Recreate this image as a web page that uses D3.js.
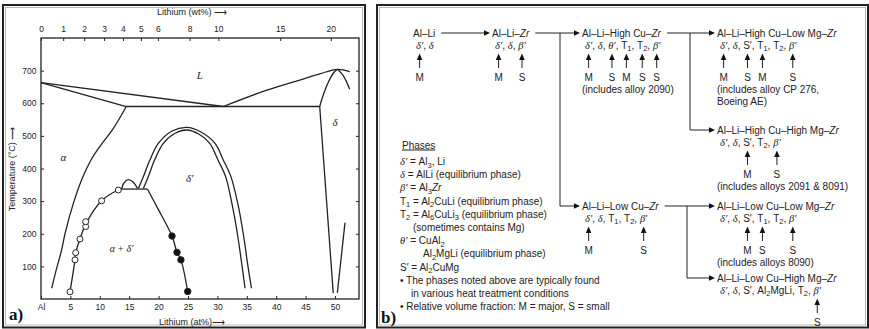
<!DOCTYPE html>
<html><head><meta charset="utf-8">
<script src="https://cdn.jsdelivr.net/npm/d3@7"></script>
<style>body{margin:0;background:#fff}svg{display:block}text{white-space:pre}</style>
</head><body><svg id="c" width="869" height="329"></svg>
<script>
// ---------------- Panel a data (Li in at%, temperature in °C) ----------------
const atTicks = [0,5,10,15,20,25,30,35,40,45,50];
const atTickLabels = ["Al","5","10","15","20","25","30","35","40","45","50"];
const wtTicks = [0,1,2,3,4,5,6,8,10,15,20];
const tempTicks = [100,200,300,400,500,600,700];

const liquidusAl = [[0,663],[31,590]];
const solidusAl = [[0,663],[14.5,590]];
const eutectic = [[14.5,590],[47.4,590]];
const liquidusDelta = [[31,590],[38.4,640],[44,671],[47.4,690],[50.4,704],[52.5,697]];
const solidusDeltaL = [[47.4,590],[47.9,620],[48.9,666],[49.7,692],[50.4,704]];
const solidusDeltaR = [[50.4,704],[51.4,685],[52.5,643]];
const solvusDeltaL = [[47.4,590],[49.7,18]];
const solvusDeltaR = [[50.4,19],[51.7,234]];
const solvusAlpha = [[14.5,590],[13.4,555],[12.2,520],[10,467],[8.5,426],[6.9,365],[5.5,293],[4.1,201],[3.5,150],[2.6,90],[1.82,33]];
const domeOuter = [[16.55,339],[17.4,375],[18.5,425],[19.95,477],[22.3,515],[24.78,526],[27.2,512],[29.6,477],[31.0,426],[32.3,375],[33.5,290],[34.4,200],[35.2,100],[35.8,33]];
const domeInner = [[17.4,339],[18.25,375],[19.3,425],[20.8,477],[22.8,508],[24.78,518],[26.9,505],[28.7,477],[30.1,426],[31.4,375],[32.5,290],[33.4,200],[34.2,100],[34.7,33]];
const hump = [[13.7,337],[14.1,356],[14.85,366],[15.7,358],[16.4,339]];
const tripleLine = [[13.7,337],[18.1,337]];
const openCurve = [[4.93,22],[5.78,120],[5.9,142],[6.63,184],[7.6,229],[10.3,301],[13.15,334],[13.7,337]];
const filledCurve = [[18.1,337],[19.7,283],[22.28,193],[23.13,143],[23.8,120],[24.95,23]];
const openCircles = [[4.93,22],[5.78,120],[5.9,142],[6.63,184],[7.6,222],[7.6,237],[10.3,301],[13.15,334]];
const filledCircles = [[22.28,193],[23.13,143],[23.8,120],[24.95,23]];
const regionText = ["L","δ","α","δ′","α + δ′"];
const regionAt = [27,50.0,3.8,25.3,13.7];
const regionT = [687,543,436,370,155];

// ---------------- Panel b data ----------------
const nodeNames = ["Al–Li","Al–Li–[Zr]","Al–Li–High Cu–[Zr]","Al–Li–High Cu–Low Mg–[Zr]","Al–Li–High Cu–High Mg–[Zr]","Al–Li–Low Cu–[Zr]","Al–Li–Low Cu–Low Mg–[Zr]","Al–Li–Low Cu–High Mg–[Zr]"];
const nodePhases = [
  ["{δ′}","{δ}"],
  ["{δ′}","{δ}","{β′}"],
  ["{δ′}","{δ}","{θ′}","T_1","T_2","{β′}"],
  ["{δ′}","{δ}","S′","T_1","T_2","{β′}"],
  ["{δ′}","{δ}","S′","T_2","{β′}"],
  ["{δ′}","{δ}","T_1","T_2","{β′}"],
  ["{δ′}","{δ}","S′","T_1","T_2","{β′}"],
  ["{δ′}","{δ}","S′","Al_2MgLi","T_2","{β′}"]
];
const nodeMarkers = [
  [[0,"M"]],
  [[0,"M"],[2,"S"]],
  [[0,"M"],[2,"S"],[3,"M"],[4,"S"],[5,"S"]],
  [[0,"M"],[2,"S"],[3,"M"],[5,"S"]],
  [[2,"M"],[4,"S"]],
  [[0,"M"],[4,"S"]],
  [[2,"M"],[3,"S"],[5,"S"]],
  [[5,"S"]]
];
const nodeNotes = [[],[],["(includes alloy 2090)"],["(includes alloy CP 276,","Boeing AE)"],["(includes alloys 2091 & 8091)"],[],["(includes alloys 8090)"],[]];
const edges = [[0,1],[1,2],[1,5],[2,3],[2,4],[5,6],[5,7]];
const legendLines = [
  "{δ′} = Al_3, Li",
  "{δ} = AlLi (equilibrium phase)",
  "{β′} = Al_3[Zr]",
  "T_1 = Al_2CuLi (equilibrium phase)",
  "T_2 = Al_6CuLi_3 (equilibrium phase)",
  "(sometimes contains Mg)",
  "{θ′} = CuAl_2",
  "Al_2MgLi (equilibrium phase)",
  "S′ = Al_2CuMg",
  "• The phases noted above are typically found",
  "in various heat treatment conditions",
  "• Relative volume fraction: M = major, S = small"
];
const legendIndent = [0,0,0,0,0,2,0,3,0,0,1,0];

// ---------------- layout ----------------
const nodeCol = [0,1,2,3,3,2,3,3];
const nodeRow = [0,0,0,0,1,2,2,3];
const colX = d3.scaleOrdinal().domain([0,1,2,3]).range([413,492,582,717]);
const rowY = d3.scaleOrdinal().domain([0,1,2,3]).range([33,130,206,278]);
const branchX = {1:560, 2:690, 5:687};

const SANS = '"Liberation Sans", Arial, sans-serif';
const SERIF = '"Liberation Serif","DejaVu Serif", serif';
const INK = "#222";

const svg = d3.select("#c");

// rich text: {..} italic serif, [..] italic, _x subscript
function rich(t, str, size){
  const parts=[]; let buf=""; let mode=0; let i=0;
  function flush(){ if(buf){parts.push({t:buf,mode:mode,sub:false}); buf="";} }
  while(i<str.length){
    const c=str[i];
    if(c==="{"){flush();mode=1;i++;continue;}
    if(c==="}"||c==="]"){flush();mode=0;i++;continue;}
    if(c==="["){flush();mode=2;i++;continue;}
    if(c==="_"){flush();parts.push({t:str[i+1],mode:mode,sub:true});i+=2;continue;}
    buf+=c;i++;
  }
  flush();
  let shifted=false;
  parts.forEach(p=>{
    const ts=t.append("tspan").text(p.t);
    if(p.mode===1) ts.attr("font-family",SERIF).attr("font-style","italic").attr("font-size",size+0.5);
    if(p.mode===2) ts.attr("font-style","italic");
    if(p.sub){ ts.attr("font-size",size*0.75).attr("dy",shifted?0:2.5); shifted=true; }
    else if(shifted){ ts.attr("dy",-2.5); shifted=false; }
  });
  return t;
}

// ---------------- panel frames ----------------
function frame(x0,y0,x1,y1){
  svg.append("rect").attr("x",x0).attr("y",y0).attr("width",x1-x0).attr("height",y1-y0)
    .attr("fill","none").attr("stroke","#222").attr("stroke-width",2);
  svg.append("rect").attr("x",x0+2.5).attr("y",y0+2.5).attr("width",x1-x0-5).attr("height",y1-y0-5)
    .attr("fill","none").attr("stroke","#aaa").attr("stroke-width",0.8);
}
frame(3,5,365,327.5);
frame(377,5,868,327.5);

// ---------------- Panel a ----------------
const x = d3.scaleLinear().domain([0,50]).range([41,335]);
const y = d3.scaleLinear().domain([0,800]).range([299,38]);
const xRight = 359;
const wtToAt = w => 100*(w/6.941)/((w/6.941)+((100-w)/26.98));

const ga = svg.append("g");
ga.append("rect").attr("x",x(0)).attr("y",y(800)).attr("width",xRight-x(0)).attr("height",y(0)-y(800))
  .attr("fill","none").attr("stroke",INK).attr("stroke-width",1.3);

function styleAxis(g){
  g.select(".domain").remove();
  g.selectAll("line").attr("stroke",INK).attr("stroke-width",1);
  g.selectAll("text").attr("font-family",SANS).attr("font-size",8.5).attr("fill",INK);
}
ga.append("g").attr("transform",`translate(0,${y(0)})`)
  .call(d3.axisBottom(x).tickValues(atTicks).tickFormat((d,i)=>atTickLabels[i]).tickSize(-3).tickPadding(4.5))
  .call(styleAxis);
ga.append("g").attr("transform",`translate(0,${y(800)})`)
  .call(d3.axisTop(x).tickValues(wtTicks.map(wtToAt)).tickFormat((d,i)=>wtTicks[i]).tickSize(-3).tickPadding(6))
  .call(styleAxis);
ga.append("g").attr("transform",`translate(${x(0)},0)`)
  .call(d3.axisLeft(y).tickValues(tempTicks).tickSize(-3).tickPadding(4.5))
  .call(styleAxis);
ga.append("g").attr("transform",`translate(${xRight},0)`)
  .call(d3.axisRight(y).tickValues(tempTicks).tickFormat("").tickSize(-3))
  .call(styleAxis);

ga.append("text").attr("x",192).attr("y",15).attr("text-anchor","middle")
  .attr("font-family",SANS).attr("font-size",9).attr("fill",INK).text("Lithium (wt%) ⟶");
ga.append("text").attr("x",192).attr("y",325).attr("text-anchor","middle")
  .attr("font-family",SANS).attr("font-size",9).attr("fill",INK).text("Lithium (at%)⟶");
ga.append("text").attr("transform","translate(15,169) rotate(-90)").attr("text-anchor","middle")
  .attr("font-family",SANS).attr("font-size",9).attr("fill",INK).text("Temperature (°C) ⟶");

const lineStraight = d3.line().x(d=>x(d[0])).y(d=>y(d[1]));
const lineCurve = d3.line().x(d=>x(d[0])).y(d=>y(d[1])).curve(d3.curveCatmullRom.alpha(0.5));
[liquidusAl,solidusAl,eutectic,solvusDeltaL,solvusDeltaR,tripleLine].forEach(d=>{
  ga.append("path").attr("d",lineStraight(d)).attr("fill","none").attr("stroke",INK).attr("stroke-width",1.3);
});
[liquidusDelta,solidusDeltaL,solidusDeltaR,solvusAlpha,domeOuter,domeInner,hump,openCurve,filledCurve].forEach(d=>{
  ga.append("path").attr("d",lineCurve(d)).attr("fill","none").attr("stroke",INK).attr("stroke-width",1.3);
});
ga.selectAll(".oc").data(openCircles).join("circle").attr("cx",d=>x(d[0])).attr("cy",d=>y(d[1])).attr("r",3)
  .attr("fill","#fff").attr("stroke",INK).attr("stroke-width",1);
ga.selectAll(".fc").data(filledCircles).join("circle").attr("cx",d=>x(d[0])).attr("cy",d=>y(d[1])).attr("r",3.2)
  .attr("fill","#111").attr("stroke",INK).attr("stroke-width",1);
regionText.forEach((t,i)=>{
  ga.append("text").attr("x",x(regionAt[i])).attr("y",y(regionT[i])+4).attr("text-anchor","middle")
    .attr("font-family",SERIF).attr("font-style","italic").attr("font-size",i===4?10:11).attr("fill",INK).text(t);
});
svg.append("text").attr("x",9).attr("y",320).attr("font-family",SERIF).attr("font-weight","bold")
  .attr("font-size",17).attr("fill","#111").text("a)");

// ---------------- Panel b ----------------
const gb = svg.append("g").attr("font-family",SANS).attr("font-size",10).attr("fill",INK);
const FS = 10;
const nameEnd = [];
nodeNames.forEach((nm,i)=>{
  const nx = colX(nodeCol[i]), ny = rowY(nodeRow[i]);
  const t = rich(gb.append("text").attr("x",nx).attr("y",ny+3.5), nm, FS);
  nameEnd[i] = nx + t.node().getComputedTextLength();
  // phases row
  let cx = nx + 3; const centers = [];
  nodePhases[i].forEach((p,k)=>{
    const pt = rich(gb.append("text").attr("x",cx).attr("y",ny+15.5), p, FS);
    const w = pt.node().getComputedTextLength();
    centers.push(cx + w/2); cx += w;
    if(k < nodePhases[i].length-1){
      const sep = gb.append("text").attr("x",cx).attr("y",ny+15.5).text(",\u00a0");
      cx += sep.node().getComputedTextLength();
    }
  });
  nodeMarkers[i].forEach(([k,lab])=>{
    const ax = centers[k];
    gb.append("line").attr("x1",ax).attr("x2",ax).attr("y1",ny+35).attr("y2",ny+26)
      .attr("stroke",INK).attr("stroke-width",1);
    gb.append("path").attr("d",`M${ax},${ny+20.5}L${ax-2.8},${ny+27}L${ax+2.8},${ny+27}Z`).attr("fill","#111");
    gb.append("text").attr("x",ax).attr("y",ny+47.5).attr("text-anchor","middle").text(lab);
  });
  nodeNotes[i].forEach((n,k)=>{
    gb.append("text").attr("x",nx).attr("y",ny+59.5+k*12).text(n);
  });
});
function arrowHead(tx,ty){
  gb.append("path").attr("d",`M${tx},${ty}L${tx-6},${ty-2.8}L${tx-6},${ty+2.8}Z`).attr("fill","#111");
}
edges.forEach(([a,b])=>{
  const ya = rowY(nodeRow[a]), yb = rowY(nodeRow[b]);
  const tx = colX(nodeCol[b]) - 2;
  if(ya===yb){
    gb.append("line").attr("x1",nameEnd[a]+6).attr("x2",tx-5).attr("y1",ya).attr("y2",ya)
      .attr("stroke",INK).attr("stroke-width",1);
    arrowHead(tx,ya);
  } else {
    const bx = branchX[a];
    gb.append("path").attr("d",`M${bx},${ya}L${bx},${yb}L${tx-5},${yb}`).attr("fill","none")
      .attr("stroke",INK).attr("stroke-width",1);
    arrowHead(tx,yb);
  }
});
// legend
gb.append("text").attr("x",402).attr("y",148.5).text("Phases").attr("text-decoration","underline");
const indentX = d3.scaleOrdinal().domain([0,1,2,3]).range([400,411,413,423]);
legendLines.forEach((l,i)=>{
  rich(gb.append("text").attr("x",indentX(legendIndent[i])).attr("y",165+i*13.2), l, FS);
});
svg.append("text").attr("x",381).attr("y",323).attr("font-family",SERIF).attr("font-weight","bold")
  .attr("font-size",17).attr("fill","#111").text("b)");
</script></body></html>
